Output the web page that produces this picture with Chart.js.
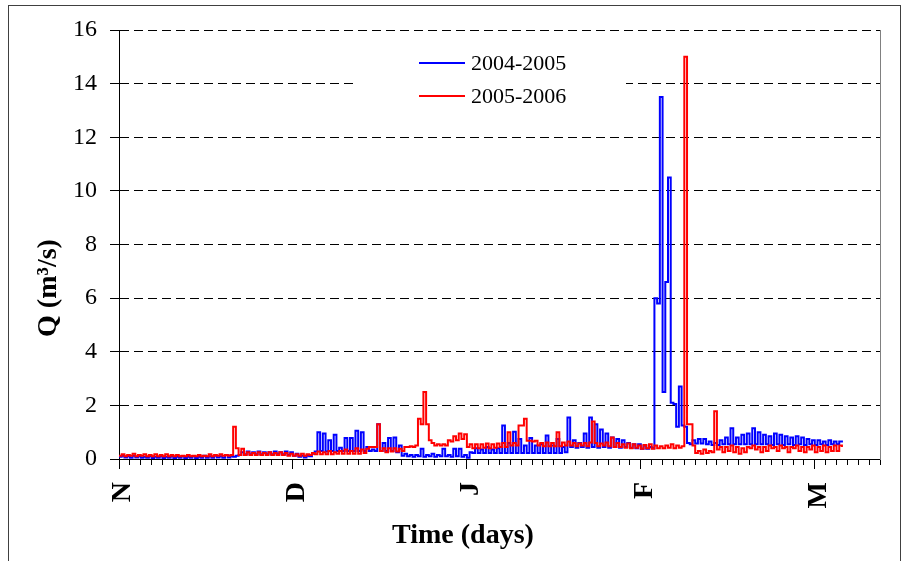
<!DOCTYPE html>
<html>
<head>
<meta charset="utf-8">
<title>Q (m3/s) - Time (days)</title>
<script src="https://cdn.jsdelivr.net/npm/chart.js@4"></script>
<style>
    html, body { margin: 0; padding: 0; background: #fff; overflow: hidden; }
    #wrap { position: relative; width: 906px; height: 561px; }
    #frame {
        position: absolute; left: 8px; top: 5px; width: 891px; height: 570px;
        border: 1px solid #404040; pointer-events: none;
    }
</style>
</head>
<body>
<div id="wrap">
    <canvas id="qChart" width="906" height="561"></canvas>
    <div id="frame"></div>
</div>
<script>
    // one value every half day, starting 1 November
    const DAY_STEP = 0.5;

    const seriesNames = ["2004-2005", "2005-2006"];

    // discharge Q (m3/s), 2004-2005
    const q2004 = [
        0.08,0.12, 0.06,0.1, 0.05,0.12, 0.06,0.1, 0.05,0.08, 0.05,0.1, 0.04,0.08, 0.05,0.1, 0.04,0.08, 0.05,0.1,
        0.04,0.08, 0.05,0.1, 0.04,0.08, 0.05,0.1, 0.04,0.08, 0.05,0.12, 0.05,0.1, 0.05,0.12, 0.06,0.1, 0.05,0.15,
        0.06,0.1, 0.08,0.12, 0.15,0.25, 0.18,0.28, 0.18,0.25, 0.18,0.28, 0.18,0.25, 0.18,0.25, 0.18,0.28, 0.18,0.25,
        0.18,0.28, 0.15,0.25, 0.12,0.2, 0.08,0.12, 0.06,0.12, 0.1,0.2, 0.28,1.0, 0.3,0.95, 0.28,0.7, 0.3,0.9,
        0.3,0.42, 0.3,0.78, 0.3,0.78, 0.3,1.05, 0.3,1.0, 0.3,0.45, 0.3,0.35, 0.3,1.3, 0.3,0.6, 0.3,0.78,
        0.3,0.8, 0.25,0.5, 0.12,0.2, 0.1,0.15, 0.08,0.15, 0.1,0.38, 0.08,0.15, 0.1,0.2, 0.08,0.15, 0.1,0.38,
        0.1,0.15, 0.08,0.38, 0.1,0.38, 0.08,0.15, 0.05,0.25, 0.22,0.4, 0.22,0.35, 0.22,0.45, 0.22,0.35, 0.22,0.4,
        0.22,1.25, 0.22,0.6, 0.22,1.02, 0.22,0.75, 0.22,0.5, 0.22,0.78, 0.22,0.5, 0.22,0.55, 0.22,0.88, 0.22,0.5,
        0.22,0.75, 0.22,0.45, 0.25,1.55, 0.45,0.7, 0.42,0.6, 0.45,0.95, 0.42,1.55, 0.45,1.3, 0.42,1.1, 0.45,0.95,
        0.42,0.8, 0.45,0.75, 0.42,0.7, 0.45,0.6, 0.42,0.55, 0.4,0.55, 0.38,0.5, 0.38,0.45, 0.4,6.0, 5.8,13.5,
        2.5,6.6, 10.5,2.1, 2.05,1.2, 2.7,1.25, 1.2,0.6, 0.55,0.7, 0.58,0.75, 0.58,0.75, 0.55,0.65, 0.52,0.6,
        0.52,0.7, 0.55,0.8, 0.55,1.15, 0.55,0.8, 0.55,0.9, 0.55,0.95, 0.55,1.15, 0.55,1.0, 0.55,0.9, 0.55,0.85,
        0.52,0.95, 0.55,0.9, 0.52,0.85, 0.55,0.8, 0.52,0.85, 0.55,0.8, 0.52,0.75, 0.55,0.7, 0.52,0.7, 0.55,0.65,
        0.52,0.7, 0.55,0.65, 0.55,0.65, 0.62
    ];

    // discharge Q (m3/s), 2005-2006
    const q2005 = [
        0.12,0.18, 0.1,0.15, 0.12,0.2, 0.1,0.15, 0.12,0.18, 0.1,0.15, 0.1,0.18, 0.1,0.15, 0.1,0.18, 0.1,0.15,
        0.1,0.15, 0.1,0.12, 0.1,0.15, 0.1,0.12, 0.1,0.15, 0.1,0.12, 0.1,0.18, 0.1,0.15, 0.12,0.18, 0.12,0.15,
        0.12,0.15, 1.2,0.4, 0.15,0.38, 0.15,0.25, 0.15,0.22, 0.15,0.25, 0.15,0.22, 0.15,0.25, 0.15,0.22, 0.15,0.25,
        0.15,0.22, 0.12,0.2, 0.12,0.18, 0.12,0.2, 0.12,0.18, 0.15,0.22, 0.18,0.28, 0.18,0.25, 0.18,0.3, 0.18,0.25,
        0.2,0.3, 0.2,0.35, 0.2,0.3, 0.2,0.4, 0.2,0.35, 0.22,0.38, 0.45,0.45, 0.45,1.3, 0.3,0.4, 0.25,0.4,
        0.28,0.4, 0.28,0.38, 0.3,0.45, 0.45,0.48, 0.45,0.5, 1.5,1.3, 2.5,1.3, 0.7,0.6, 0.5,0.55, 0.5,0.55,
        0.5,0.7, 0.65,0.85, 0.7,0.95, 0.75,0.92, 0.45,0.55, 0.4,0.55, 0.4,0.55, 0.42,0.58, 0.4,0.55, 0.42,0.58,
        0.45,0.6, 0.45,1.0, 0.5,0.6, 0.5,1.25, 1.25,1.5, 0.68,0.68, 0.65,0.68, 0.5,0.6, 0.48,0.62, 0.48,0.6,
        0.48,1.0, 0.48,0.62, 0.5,0.65, 0.5,0.6, 0.48,0.58, 0.5,0.6, 0.48,0.62, 1.4,0.6, 0.48,0.58, 0.5,0.62,
        0.48,0.8, 0.45,0.6, 0.45,0.55, 0.42,0.58, 0.4,0.55, 0.42,0.5, 0.38,0.52, 0.4,0.55, 0.38,0.5, 0.4,0.48,
        0.4,0.5, 0.42,0.55, 0.4,0.5, 0.42,0.48, 15.0,1.3, 1.3,0.5, 0.22,0.3, 0.2,0.35, 0.22,0.3, 0.25,1.78,
        0.35,0.45, 0.25,0.45, 0.3,0.5, 0.25,0.45, 0.2,0.4, 0.25,0.45, 0.4,0.5, 0.35,0.45, 0.25,0.45, 0.3,0.5,
        0.4,0.45, 0.3,0.5, 0.4,0.45, 0.25,0.45, 0.4,0.5, 0.3,0.45, 0.25,0.45, 0.35,0.5, 0.25,0.45, 0.3,0.5,
        0.25,0.45, 0.3,0.5, 0.3,0.5, 0.45
    ];

    // month marks on the time axis
    const monthLabels = ["N", "D", "J", "F", "M"];
    const monthStartDays = [0, 32, 64, 96, 128];

    const yTicks = [0, 2, 4, 6, 8, 10, 12, 14, 16];

    const FONT = "'Liberation Serif', 'Times New Roman', serif";

    function toPoints(values) {
        return values.map((q, i) => ({ x: i * DAY_STEP, y: q }));
    }

    // legend box and axis titles, drawn inside the frame like the original
    const overlayPlugin = {
        id: "overlay",
        beforeDatasetsDraw(chart) {
            const { ctx, chartArea: a } = chart;
            ctx.save();
            ctx.fillStyle = "#fff";
            ctx.fillRect(a.left + 238, a.top + 10, 269, 78);

            chart.data.datasets.forEach((ds, i) => {
                const y = a.top + 33 + i * 33;
                ctx.strokeStyle = ds.borderColor;
                ctx.lineWidth = 2;
                ctx.beginPath();
                ctx.moveTo(a.left + 300, y);
                ctx.lineTo(a.left + 346, y);
                ctx.stroke();
                ctx.fillStyle = "#000";
                ctx.font = "22px " + FONT;
                ctx.textAlign = "left";
                ctx.textBaseline = "alphabetic";
                ctx.fillText(ds.label, a.left + 352, y + 7);
            });

            ctx.fillStyle = "#000";
            ctx.font = "bold 28px " + FONT;
            ctx.textAlign = "center";
            ctx.textBaseline = "alphabetic";
            ctx.fillText("Time (days)", a.left + 344, a.bottom + 84);

            ctx.translate(a.left - 70, a.top + 258);
            ctx.rotate(-Math.PI / 2);
            ctx.textBaseline = "middle";
            ctx.fillText("Q (m\u00b3/s)", 0, 0);
            ctx.restore();
        }
    };

    document.addEventListener("DOMContentLoaded", function () {
        const ctx = document.getElementById("qChart").getContext("2d");

        window.qChart = new Chart(ctx, {
            type: "line",
            data: {
                datasets: [
                    {
                        label: seriesNames[0],
                        data: toPoints(q2004),
                        borderColor: "#0000ff",
                        order: 2
                    },
                    {
                        label: seriesNames[1],
                        data: toPoints(q2005),
                        borderColor: "#ff0000",
                        order: 1
                    }
                ]
            },
            options: {
                responsive: false,
                animation: false,
                devicePixelRatio: 1,
                layout: { padding: { top: 30, left: 0, right: 0, bottom: 0 } },
                elements: {
                    line: { borderWidth: 2, tension: 0, stepped: true, fill: false },
                    point: { radius: 0, hoverRadius: 0 }
                },
                plugins: {
                    legend: { display: false },
                    tooltip: { enabled: false }
                },
                scales: {
                    x: {
                        type: "linear",
                        position: "bottom",
                        weight: 0,
                        min: 0,
                        max: 140,
                        ticks: { display: false, stepSize: 2, autoSkip: false, maxTicksLimit: 200 },
                        grid: { drawOnChartArea: false, tickLength: 6, tickColor: "#000" },
                        border: { color: "#000", width: 1 },
                        afterFit: s => { s.height = 0; }
                    },
                    month: {
                        type: "linear",
                        position: "bottom",
                        weight: 1,
                        min: 0,
                        max: 140,
                        afterBuildTicks: s => { s.ticks = monthStartDays.map(v => ({ value: v })); },
                        ticks: {
                            autoSkip: false,
                            minRotation: 90,
                            maxRotation: 90,
                            padding: 13,
                            labelOffset: 4,
                            color: "#000",
                            font: { family: FONT, size: 28, weight: "bold" },
                            callback: v => monthLabels[monthStartDays.indexOf(v)]
                        },
                        grid: { drawOnChartArea: false, tickLength: 10, tickColor: "#000" },
                        border: { display: false },
                        afterFit: s => { s.height = 102; }
                    },
                    y: {
                        min: 0,
                        max: 16,
                        afterBuildTicks: s => { s.ticks = yTicks.map(v => ({ value: v })); },
                        ticks: {
                            padding: 13,
                            color: "#000",
                            font: { family: FONT, size: 24 }
                        },
                        grid: { color: "#000", lineWidth: 1, tickLength: 9, tickColor: "#000" },
                        border: { color: "#000", width: 1, dash: [9, 5] },
                        afterFit: s => { s.width = 119; }
                    },
                    frameRight: {
                        position: "right",
                        min: 0,
                        max: 16,
                        ticks: { display: false },
                        grid: { display: false },
                        border: { color: "#808080", width: 1 },
                        afterFit: s => { s.width = 26; }
                    }
                }
            },
            plugins: [overlayPlugin]
        });
    });
</script>
</body>
</html>
